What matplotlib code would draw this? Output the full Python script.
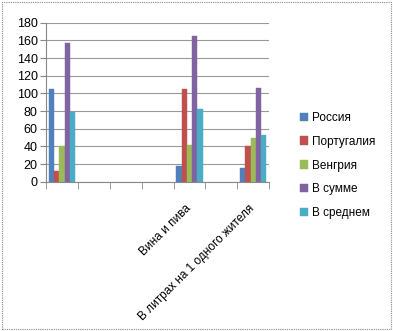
import numpy as np
import matplotlib
matplotlib.use('Agg')
import matplotlib.pyplot as plt
from matplotlib.patches import Rectangle

# categories (7 slots, only some labelled / filled)
categories = ['', '', '', '', 'Вина и пива', '', 'В литрах на 1 одного жителя']
series = ['Россия', 'Португалия', 'Венгрия', 'В сумме', 'В среднем']
russia = [105, 0, 0, 0, 18, 0, 16]
portugal = [12, 0, 0, 0, 105, 0, 40]
hungary = [40, 0, 0, 0, 42, 0, 50]
total = [157, 0, 0, 0, 165, 0, 106]
average = [79, 0, 0, 0, 82, 0, 53]
yticks = [0, 20, 40, 60, 80, 100, 120, 140, 160, 180]

colors = ['#4F81BD', '#C0504D', '#9BBB59', '#8064A2', '#4BACC6']
plt.rcParams['font.family'] = ['Liberation Sans', 'DejaVu Sans']

fig = plt.figure(figsize=(3.93, 3.31), dpi=100)
ax = fig.add_axes([0.117, 0.451, 0.568, 0.48])

x = np.arange(len(categories))
w = 0.165
data = [russia, portugal, hungary, total, average]
bars = []
for i, vals in enumerate(data):
    vals = np.array(vals, dtype=float)
    mask = vals > 0
    b = ax.bar(x[mask] + (i - 2) * w, vals[mask], w, color=colors[i],
               edgecolor=colors[i], linewidth=0.3, label=series[i], zorder=3)
    bars.append(b)

ax.set_xlim(-0.5, len(categories) - 0.5)
ax.set_ylim(0, 180)
ax.set_yticks(yticks)
ax.tick_params(axis='y', labelsize=9, length=4, color='#888888', pad=2)
ax.set_xticks(x - 0.15)
ax.set_xticklabels(categories, rotation=45, ha='right', rotation_mode='anchor', fontsize=8.5)
ax.tick_params(axis='x', which='major', length=0, pad=15)
ax.set_xticks(np.arange(-0.5, len(categories)), minor=True)
ax.tick_params(axis='x', which='minor', length=5, color='#888888')
ax.grid(axis='y', color='#999999', linewidth=0.8, zorder=0)
for s in ['top', 'right']:
    ax.spines[s].set_visible(False)
for s in ['left', 'bottom']:
    ax.spines[s].set_color('#888888')

fig.legend(handles=bars, labels=series, loc='center left', bbox_to_anchor=(0.763, 0.50),
           frameon=False, fontsize=8.5, handlelength=0.7, handleheight=0.7,
           handletextpad=0.3, labelspacing=1.0, borderpad=0, borderaxespad=0)

fig.patches.append(Rectangle((0.005, 0.005), 0.99, 0.99, transform=fig.transFigure,
                             fill=False, edgecolor='#888888', linestyle=(0, (1, 1)),
                             linewidth=0.8))

fig.savefig('out.png', dpi=100)
